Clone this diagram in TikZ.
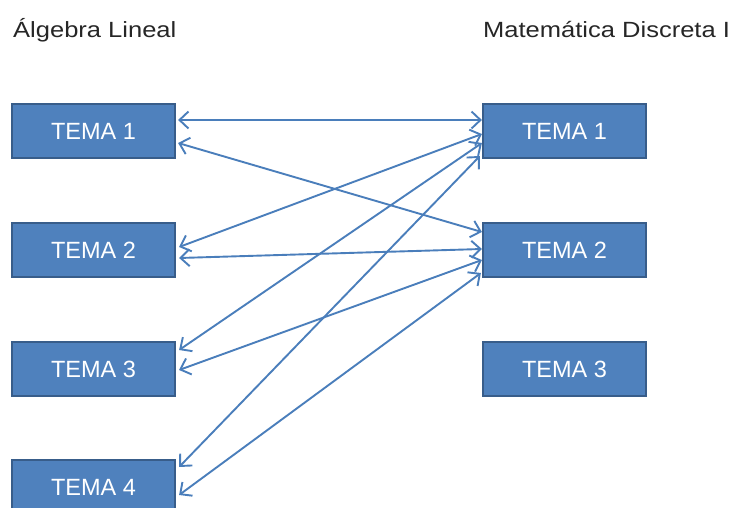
\documentclass[tikz,border=0pt]{standalone}
\usepackage{fontspec}
\setmainfont{Liberation Sans}
\usetikzlibrary{arrows.meta}
\definecolor{boxfill}{HTML}{4F81BD}
\definecolor{boxline}{HTML}{385D8A}
\definecolor{linkblue}{HTML}{4A7EBB}
\begin{document}
\begin{tikzpicture}[x=1pt,y=-1pt,
  tema/.style={rectangle, fill=boxfill, draw=boxline, line width=2.2pt,
    minimum width=163pt, minimum height=54pt, inner sep=0pt,
    text=white, font=\fontsize{23.5}{26}\selectfont},
  header/.style={anchor=base west, inner sep=0pt, text=black!85,
    font=\fontsize{22}{26}\selectfont},
  barb/.tip={Straight Barb[length=9pt,width=17pt,line width=1.9pt]},
  link/.style={draw=linkblue, line width=1.9pt, {barb}-{barb}}
]
\useasboundingbox (0,0) rectangle (741,508);

% column headings
\node[header] (hl) at (13,37.7) {\scalebox{1.16}[1]{Álgebra Lineal}};
\node[header] (hr) at (483,37.7) {\scalebox{1.16}[1]{Matemática Discreta I}};

% topics of the left subject
\node[tema] (l1) at (93.5,131) {TEMA 1};
\node[tema] (l2) at (93.5,250) {TEMA 2};
\node[tema] (l3) at (93.5,369) {TEMA 3};
\node[tema] (l4) at (93.5,487) {TEMA 4};

% topics of the right subject
\node[tema] (r1) at (564.5,131) {TEMA 1};
\node[tema] (r2) at (564.5,250) {TEMA 2};
\node[tema] (r3) at (564.5,369) {TEMA 3};

% relations between topics (shifts are in page coordinates: positive = up)
\draw[link] ([xshift=2pt,yshift=11pt]l1.east)  -- ([yshift=11pt]r1.west);
\draw[link] ([xshift=2pt,yshift=-12pt]l1.east) -- ([yshift=18pt]r2.west);
\draw[link] ([xshift=3pt,yshift=3pt]l2.east)   -- ([yshift=-3pt]r1.west);
\draw[link] ([xshift=3pt,yshift=-8pt]l2.east)  -- ([yshift=1pt]r2.west);
\draw[link] ([xshift=3pt,yshift=19pt]l3.east)  -- ([yshift=-12pt]r1.west);
\draw[link] ([xshift=3pt,yshift=-1pt]l3.east)  -- ([yshift=-10pt]r2.west);
\draw[link] ([xshift=3pt,yshift=20pt]l4.east)  -- ([xshift=-2pt,yshift=-25pt]r1.west);
\draw[link] ([xshift=3pt,yshift=-8pt]l4.east)  -- ([xshift=-1pt,yshift=-23pt]r2.west);
\end{tikzpicture}
\end{document}
